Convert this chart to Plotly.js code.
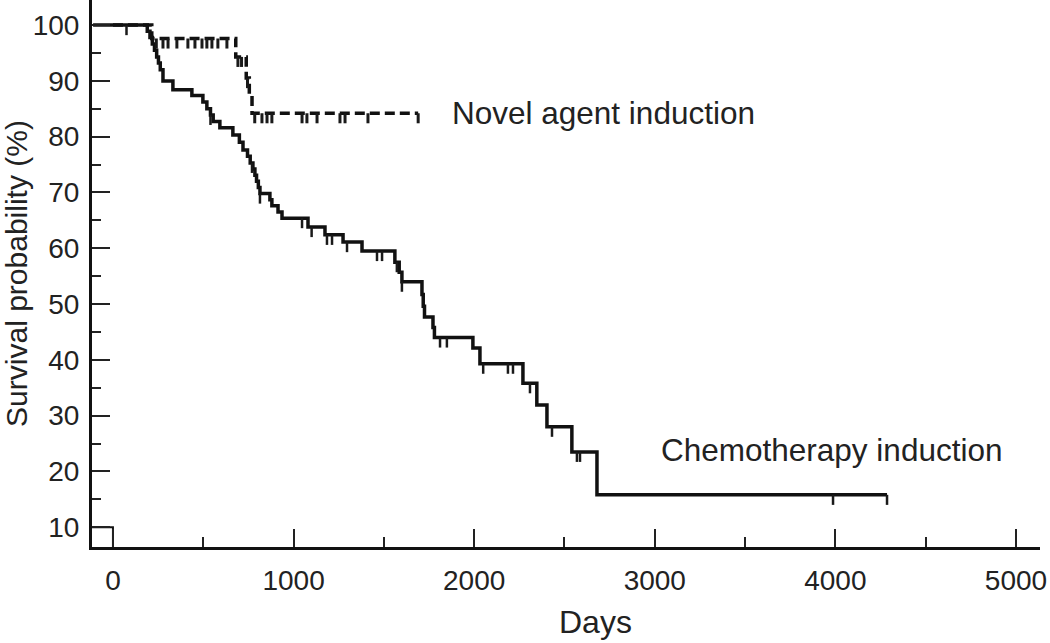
<!DOCTYPE html>
<html>
<head>
<meta charset="utf-8">
<script src="https://cdn.plot.ly/plotly-3.0.1.min.js"></script>
<style>
  html, body { margin: 0; padding: 0; background: #fff; }
  #chart { width: 1050px; height: 643px; }
</style>
</head>
<body>
<div id="chart"></div>
<script>
// ---- Data ----
// Chemotherapy induction: Kaplan-Meier step curve (day, survival % after the step)
const chemoDays = [-110, 190, 205, 218, 230, 242, 252, 262, 277, 332, 437, 498, 520, 540, 555, 592, 664, 700, 720, 745, 760, 775, 786, 795, 805, 814, 869, 880, 914, 936, 1080, 1174, 1274, 1379, 1561, 1585, 1600, 1711, 1718, 1725, 1772, 1780, 1993, 2032, 2270, 2347, 2403, 2541, 2680, 4286];
const chemoSurv = [100, 98.9, 97.8, 96.6, 95.5, 94.3, 93.2, 92.0, 90.0, 88.4, 87.4, 86.2, 85.0, 83.9, 82.7, 81.6, 80.3, 79.0, 77.6, 76.5, 75.3, 74.2, 73.1, 72.0, 70.9, 69.8, 68.7, 67.6, 66.5, 65.4, 63.8, 62.4, 61.1, 59.5, 57.5, 55.7, 54.0, 51.7, 49.6, 47.7, 45.8, 44.0, 42.1, 39.3, 35.8, 31.9, 28.0, 23.5, 15.8, 15.8];
const chemoCensorDays = [75, 540, 770, 814, 1047, 1100, 1185, 1213, 1296, 1462, 1490, 1572, 1600, 1811, 1849, 2050, 2187, 2215, 2309, 2431, 2569, 2586, 3987, 4286];

// Novel agent induction
const novelDays = [0, 215, 680, 738, 755, 770, 1690];
const novelSurv = [100, 97.6, 94.3, 90.5, 87.3, 84.2, 84.2];
const novelCensorDays = [240, 277, 305, 354, 415, 454, 493, 520, 548, 581, 631, 692, 712, 745, 785, 825, 853, 880, 1047, 1074, 1130, 1257, 1285, 1412, 1690];

// Stray corner box at the origin in the reference
const cornerDays = [-116, 0, 0];
const cornerSurv = [10, 10, 6.4];

// Axis ticks
const xTickVals = [0, 1000, 2000, 3000, 4000, 5000];
const yTickVals = [10, 20, 30, 40, 50, 60, 70, 80, 90, 100];

const labels = { novel: "Novel agent induction", chemo: "Chemotherapy induction", x: "Days", y: "Survival probability (%)" };

// step lookup: survival at a given day
function stepValue(days, surv, d) {
  let v = surv[0];
  for (let i = 0; i < days.length; i++) { if (days[i] <= d) v = surv[i]; }
  return v;
}

const FONT = "Arial, 'Liberation Sans', sans-serif";
const tickDrop = 1.8;

function censorTrace(days, curveDays, curveSurv, w) {
  const ys = days.map(d => stepValue(curveDays, curveSurv, d));
  return {
    x: days, y: ys, type: 'scatter', mode: 'markers',
    marker: { size: 1, color: 'rgba(0,0,0,0)' },
    error_y: { type: 'data', symmetric: false, array: days.map(() => 0), arrayminus: days.map(() => tickDrop), width: 0, thickness: w, color: '#1a1a1a' },
    hoverinfo: 'skip', showlegend: false
  };
}

const traces = [
  { x: cornerDays, y: cornerSurv, type: 'scatter', mode: 'lines', line: { color: '#111', width: 2 }, showlegend: false, hoverinfo: 'skip' },
  { x: novelDays, y: novelSurv, type: 'scatter', mode: 'lines', line: { shape: 'hv', color: '#111', width: 3.5, dash: '10px,5px' }, name: labels.novel, showlegend: false },
  { x: chemoDays, y: chemoSurv, type: 'scatter', mode: 'lines', line: { shape: 'hv', color: '#111', width: 3.5 }, name: labels.chemo, showlegend: false },
  censorTrace(chemoCensorDays, chemoDays, chemoSurv, 2.5),
  censorTrace(novelCensorDays, novelDays, novelSurv, 3)
];

const layout = {
  width: 1050, height: 643,
  margin: { l: 92, r: 10, t: 0, b: 96, autoexpand: false },
  paper_bgcolor: '#fff', plot_bgcolor: '#fff',
  font: { family: FONT, color: '#222' },
  showlegend: false,
  xaxis: {
    range: [-116, 5133], showgrid: false, zeroline: false,
    showline: true, linecolor: '#111', linewidth: 3,
    tickmode: 'array', tickvals: xTickVals,
    ticks: 'inside', ticklen: 18, tickwidth: 2, tickcolor: '#222',
    minor: { dtick: 500, tick0: 0, ticks: 'inside', ticklen: 10, tickwidth: 2, tickcolor: '#222' },
    tickfont: { size: 28, family: FONT, color: '#222' },
    ticklabelstandoff: 6,
    fixedrange: true
  },
  yaxis: {
    range: [6.45, 104.5], showgrid: false, zeroline: false,
    showline: true, linecolor: '#111', linewidth: 3,
    tickmode: 'array', tickvals: yTickVals,
    ticks: 'inside', ticklen: 18, tickwidth: 2, tickcolor: '#222',
    minor: { dtick: 5, tick0: 0, ticks: 'inside', ticklen: 9, tickwidth: 2, tickcolor: '#222' },
    tickfont: { size: 28, family: FONT, color: '#222' },
    ticklabelstandoff: 4,
    title: { text: labels.y, font: { size: 30, family: FONT, color: '#222' }, standoff: 8 },
    fixedrange: true
  },
  annotations: [
    { x: 1866, y: 84.2, xref: 'x', yref: 'y', text: labels.novel, showarrow: false, xanchor: 'left', yanchor: 'middle', font: { size: 31.5, family: FONT, color: '#222' } },
    { x: 3023, y: 23.8, xref: 'x', yref: 'y', text: labels.chemo, showarrow: false, xanchor: 'left', yanchor: 'middle', font: { size: 31.5, family: FONT, color: '#222' } },
    { x: 2674, y: 0, xref: 'x', yref: 'paper', yshift: -75, text: labels.x, showarrow: false, xanchor: 'center', yanchor: 'middle', font: { size: 32, family: FONT, color: '#222' } }
  ]
};

Plotly.newPlot('chart', traces, layout, { displayModeBar: false, staticPlot: true });
</script>
</body>
</html>
